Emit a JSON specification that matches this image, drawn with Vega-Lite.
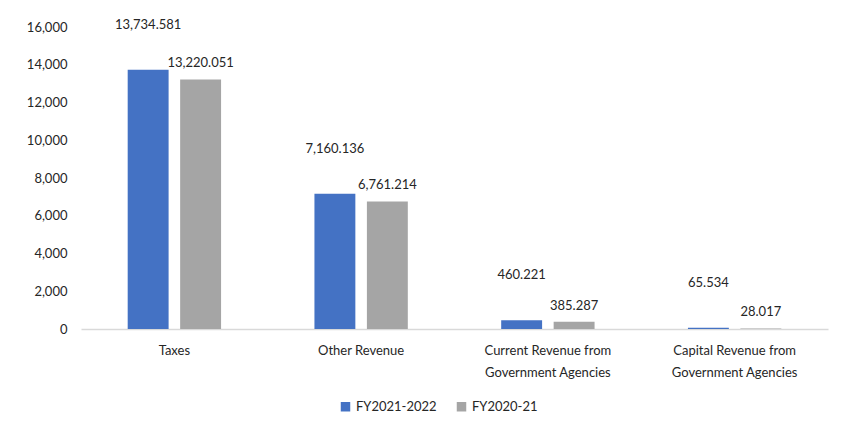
{
  "$schema": "https://vega.github.io/schema/vega-lite/v6.json",
  "width": 747,
  "height": 302,
  "autosize": {"type": "none"},
  "padding": {"left": 81, "top": 27, "right": 18, "bottom": 103},
  "background": "white",
  "config": {
    "view": {"stroke": null},
    "font": "Lato",
    "text": {"font": "Lato"}
  },
  "data": {
    "values": [
      {"category": "Taxes", "year": "FY2021-2022", "value": 13734.581, "label": "13,734.581"},
      {"category": "Taxes", "year": "FY2020-21", "value": 13220.051, "label": "13,220.051"},
      {"category": "Other Revenue", "year": "FY2021-2022", "value": 7160.136, "label": "7,160.136"},
      {"category": "Other Revenue", "year": "FY2020-21", "value": 6761.214, "label": "6,761.214"},
      {"category": "Current Revenue from Government Agencies", "year": "FY2021-2022", "value": 460.221, "label": "460.221"},
      {"category": "Current Revenue from Government Agencies", "year": "FY2020-21", "value": 385.287, "label": "385.287"},
      {"category": "Capital Revenue from Government Agencies", "year": "FY2021-2022", "value": 65.534, "label": "65.534"},
      {"category": "Capital Revenue from Government Agencies", "year": "FY2020-21", "value": 28.017, "label": "28.017"}
    ]
  },
  "encoding": {
    "x": {
      "field": "category",
      "type": "nominal",
      "sort": null,
      "scale": {"paddingInner": 0.5, "paddingOuter": 0.25},
      "axis": {
        "title": null,
        "labelAngle": 0,
        "ticks": false,
        "domainColor": "#D9D9D9",
        "domainWidth": 1.5,
        "labelFont": "Lato",
        "labelFontSize": 13,
        "labelColor": "#262626",
        "labelPadding": 15,
        "labelLineHeight": 22,
        "labelExpr": "indexof(datum.label, ' from ') > 0 ? [substring(datum.label, 0, indexof(datum.label, ' from ') + 5), substring(datum.label, indexof(datum.label, ' from ') + 6)] : datum.label"
      }
    },
    "xOffset": {
      "field": "year",
      "type": "nominal",
      "sort": ["FY2021-2022", "FY2020-21"],
      "scale": {"paddingInner": 0.22, "paddingOuter": 0}
    },
    "y": {
      "field": "value",
      "type": "quantitative",
      "scale": {"domain": [0, 16000], "nice": false},
      "axis": {
        "title": null,
        "values": [0, 2000, 4000, 6000, 8000, 10000, 12000, 14000, 16000],
        "labelOverlap": false,
        "format": ",d",
        "grid": false,
        "domain": false,
        "ticks": false,
        "labelFont": "Lato",
        "labelFontSize": 13,
        "labelColor": "#262626",
        "labelPadding": 14
      }
    }
  },
  "layer": [
    {
      "mark": {"type": "bar"},
      "encoding": {
        "color": {
          "field": "year",
          "type": "nominal",
          "sort": ["FY2021-2022", "FY2020-21"],
          "scale": {"domain": ["FY2021-2022", "FY2020-21"], "range": ["#4472C4", "#A5A5A5"]},
          "legend": {
            "title": null,
            "orient": "none",
            "direction": "horizontal",
            "legendX": 258,
            "legendY": 373,
            "symbolType": "square",
            "symbolSize": 90,
            "symbolStrokeWidth": 0,
            "labelFont": "Lato",
            "labelFontSize": 13,
            "labelColor": "#262626",
            "columnPadding": 18,
            "labelOffset": 4
          }
        }
      }
    },
    {
      "transform": [{"filter": "datum.year == 'FY2021-2022'"}],
      "mark": {"type": "text", "dy": -45, "fontSize": 13, "color": "#262626", "baseline": "middle"},
      "encoding": {"text": {"field": "label"}}
    },
    {
      "transform": [{"filter": "datum.year == 'FY2020-21'"}],
      "mark": {"type": "text", "dy": -16, "fontSize": 13, "color": "#262626", "baseline": "middle"},
      "encoding": {"text": {"field": "label"}}
    }
  ]
}
